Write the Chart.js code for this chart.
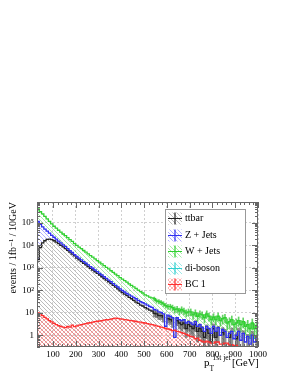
<!DOCTYPE html>
<html>
<head>
<meta charset="utf-8">
<script src="https://cdn.jsdelivr.net/npm/chart.js@4.4.1/dist/chart.umd.min.js"></script>
<style>
  html, body { margin: 0; padding: 0; background: #fff; }
</style>
</head>
<body>
<canvas id="chart" width="287" height="372"></canvas>
<script>
// low edge of each 10 GeV bin of the leading jet pT
const binLow = [30, 40, 50, 60, 70, 80, 90, 100, 110, 120, 130, 140, 150, 160, 170, 180, 190,
  200, 210, 220, 230, 240, 250, 260, 270, 280, 290, 300, 310, 320, 330, 340, 350, 360, 370, 380, 390,
  400, 410, 420, 430, 440, 450, 460, 470, 480, 490, 500, 510, 520, 530, 540, 550, 560, 570, 580, 590,
  600, 610, 620, 630, 640, 650, 660, 670, 680, 690, 700, 710, 720, 730, 740, 750, 760, 770, 780, 790,
  800, 810, 820, 830, 840, 850, 860, 870, 880, 890, 900, 910, 920, 930, 940, 950, 960, 970, 980, 990]
const binWidth = 10

// the backgrounds are stacked: each list is the top of the stack as drawn
const ttbar = [2300, 8000, 13000, 16000, 18500, 19000, 18000, 16000, 14000, 12000, 10000, 8600, 7200, 6000, 5000, 4100, 3400,
  2700, 2250, 1900, 1600, 1350, 1130, 950, 800, 670, 570, 480, 400, 335, 285, 240, 200, 165, 138, 115, 95,
  80, 68, 58, 48, 42, 36, 30, 26, 22, 20, 17, 15, 13, 12, 9.5, 9, 7.5, 7.5, 6, 0,
  5.5, 5, 4, 0, 4.5, 3.5, 3, 3.5, 2, 3, 2.5, 2, 3, 1.5, 2, 1.5, 0.8, 1.8, 1.2, 0.5,
  2, 0.8, 1.5, 0, 1.3, 1, 0, 0.8, 1.2, 0, 0.7, 1.2, 0, 0.9, 0, 0.6, 0, 0.8, 0, 0.5]
const zJets = [115000, 85000, 66000, 53000, 43000, 35000, 28000, 23000, 19000, 15500, 13000, 10500, 8700, 7100, 5800, 4800, 3900,
  3200, 2700, 2250, 1900, 1600, 1350, 1130, 960, 800, 680, 570, 480, 400, 340, 285, 240, 200, 165, 140, 115,
  98, 84, 72, 62, 55, 48, 42, 36, 31, 28, 25, 22, 19, 17.5, 14, 13, 11, 10.5, 9, 2.5,
  7.8, 7, 6, 0.8, 6, 5, 4.5, 5, 3.5, 4, 3.5, 3, 4, 2.5, 3, 2.2, 1.5, 2.5, 2, 1.2,
  2.5, 1.5, 2.2, 1, 1.8, 1.5, 0.8, 1.2, 1.5, 0.7, 1, 1.5, 0.6, 1.2, 0.5, 0.9, 0.4, 1, 0.5, 0.8]
const wJets = [420000, 320000, 250000, 195000, 150000, 117000, 91000, 71000, 58000, 47000, 39000, 32000, 27000, 22000, 18000, 15000, 12000,
  10000, 8300, 7100, 5900, 5000, 4200, 3500, 3000, 2500, 2100, 1800, 1500, 1260, 1050, 890, 740, 630, 520, 450, 370,
  316, 270, 230, 195, 166, 141, 120, 102, 87, 76, 63, 57, 50, 46, 42, 34, 32, 29, 25, 21,
  19, 19, 17, 14, 15, 12, 14, 12, 10, 11, 11, 8, 10, 7, 9, 8, 6, 9, 7, 5,
  6.5, 5, 7, 4.5, 5.5, 6, 3.5, 4, 5, 3, 3.5, 4.5, 3, 4, 2.5, 3, 2, 3.5, 2, 2.5]
const diboson = []
const bc1 = [10, 9, 7.5, 6.3, 5.3, 4.5, 3.9, 3.4, 3.0, 2.7, 2.5, 2.3, 2.2, 2.5, 2.3, 2.8, 2.4,
  2.6, 2.8, 3.0, 3.1, 3.3, 3.5, 3.6, 3.8, 4.0, 4.2, 4.3, 4.5, 4.7, 4.9, 5.0, 5.2, 5.5, 5.8, 5.6, 5.3,
  5.2, 5.0, 4.8, 4.6, 4.5, 4.3, 4.1, 3.9, 3.8, 3.6, 3.5, 3.3, 3.1, 3.0, 2.8, 2.6, 2.5, 2.3, 2.2, 2.0,
  1.9, 1.8, 1.6, 1.7, 1.5, 1.4, 1.3, 1.2, 1.1, 1.0, 0.9, 0.85, 0.7, 0.75, 0.6, 0.55, 0.5, 0.55, 0.5, 0.45,
  0.45, 0.5, 0.5, 0.4, 0.4, 0.45, 0.45, 0.38, 0.38, 0.35, 0.35, 0.3, 0.3, 0.28, 0.28, 0.25, 0.25, 0.22, 0.22, 0.2]

// statistical errors, only visible in the sparse tail (bins from 540 GeV on)
const errFrom = 540
const ttbarErr = [3, 3, 2.5, 2.5, 2.2, 0, 2, 2, 1.8, 0, 1.8, 1.6, 1.5, 1.6, 1.2, 1.5, 1.4, 1.2, 1.5, 1, 1.2, 1, 0.7,
  1.1, 0.9, 0.5, 1.2, 0.7, 1, 0, 0.9, 0.8, 0, 0.7, 0.9, 0, 0.6, 0.9, 0, 0.7, 0, 0.5, 0, 0.7, 0, 0.45]
const wJetsErr = [8, 7, 7, 6, 6, 5, 5, 5, 5, 4.5, 4.5, 4, 4.5, 4, 3.5, 3.8, 3.8, 3, 3.5, 2.8, 3.2, 3, 2.5,
  3.2, 2.8, 2.2, 2.6, 2.2, 2.8, 2, 2.4, 2.5, 1.8, 2, 2.2, 1.6, 1.8, 2, 1.6, 1.9, 1.4, 1.6, 1.3, 1.8, 1.3, 1.5]

const xTicks = [100, 200, 300, 400, 500, 600, 700, 800, 900, 1000]
const yTicks = [1, 10, 100, 1000, 10000, 100000]
const yTickLabels = ["1", "10", "10²", "10³", "10⁴", "10⁵"]

const serif = '"Liberation Serif", "DejaVu Serif", serif'

// histogram as a step line: one point per low edge plus the closing edge
const steps = (vals) => {
  let pts = vals.map((v, i) => ({x: binLow[i], y: v}))
  if (vals.length) pts.push({x: binLow[vals.length - 1] + binWidth, y: vals[vals.length - 1]})
  return pts
}

// floating bars [value - err, value + err] at the bin centres
const errBars = (vals, errs) => {
  let first = binLow.indexOf(errFrom)
  let out = []
  errs.forEach((e, j) => {
    let i = first + j
    if (e > 0) out.push({x: binLow[i] + binWidth / 2, y: [Math.max(vals[i] - e, 0), vals[i] + e]})
  })
  return out
}

let canvas = document.getElementById("chart")
let ctx = canvas.getContext("2d")

// ROOT-like fill styles: pixel diagonals, or crossed diagonals
const hatch = (color, cross) => {
  let c = document.createElement("canvas")
  c.width = 4
  c.height = 4
  let g = c.getContext("2d")
  g.fillStyle = color
  for (let i = 0; i < 4; i++) {
    g.fillRect(i, i, 1, 1)
    if (cross) g.fillRect(3 - i, i, 1, 1)
  }
  return ctx.createPattern(c, "repeat")
}

const frame = {
  id: "frame",
  afterDatasetsDraw(chart) {
    const {ctx, chartArea: a, scales: {x, y}} = chart
    ctx.save()
    ctx.strokeStyle = "#666"
    ctx.lineWidth = 1
    ctx.beginPath()
    for (let v = 40; v <= 1000; v += 20) {
      let px = Math.round(x.getPixelForValue(v)) + 0.5
      let len = v % 100 === 0 ? 6 : 3
      ctx.moveTo(px, a.bottom); ctx.lineTo(px, a.bottom - len)
      ctx.moveTo(px, a.top); ctx.lineTo(px, a.top + len)
    }
    for (let e = -1; e <= 5; e++) {
      for (let k = 1; k <= 9; k++) {
        let v = k * Math.pow(10, e)
        if (v < y.min || v > y.max) continue
        let py = Math.round(y.getPixelForValue(v)) + 0.5
        let len = k === 1 ? 6 : 3
        ctx.moveTo(a.left, py); ctx.lineTo(a.left + len, py)
        ctx.moveTo(a.right, py); ctx.lineTo(a.right - len, py)
      }
    }
    ctx.stroke()
    ctx.strokeRect(a.left + 0.5, a.top + 0.5, a.right - a.left - 1, a.bottom - a.top - 1)
    ctx.restore()
  }
}

const legendBox = {
  id: "legendBox",
  afterDraw(chart) {
    const {ctx} = chart
    let x0 = 165, y0 = 209, w = 80, h = 84
    ctx.save()
    ctx.fillStyle = "#fff"
    ctx.fillRect(x0, y0, w, h)
    ctx.strokeStyle = "#999"
    ctx.lineWidth = 1
    ctx.strokeRect(x0 + 0.5, y0 + 0.5, w, h)
    ctx.font = "10px " + serif
    ctx.textBaseline = "middle"
    chart.data.datasets.filter(ds => ds.type !== "bar").forEach((ds, i) => {
      let cy = Math.round(y0 + 9 + i * 16.6) + 0.5
      ctx.fillStyle = ds.backgroundColor
      ctx.fillRect(x0 + 3, cy - 6, 14, 12)
      ctx.strokeStyle = ds.borderColor
      ctx.lineWidth = 1.2
      ctx.beginPath()
      ctx.moveTo(x0 + 3, cy); ctx.lineTo(x0 + 17, cy)
      ctx.moveTo(x0 + 10, cy - 6); ctx.lineTo(x0 + 10, cy + 6)
      ctx.stroke()
      ctx.fillStyle = "#000"
      ctx.fillText(ds.label, x0 + 20, cy)
    })
    ctx.restore()
  }
}

const xTitle = {
  id: "xTitle",
  afterDraw(chart) {
    const {ctx} = chart
    ctx.save()
    ctx.fillStyle = "#000"
    ctx.textBaseline = "alphabetic"
    ctx.font = "11px " + serif
    ctx.fillText("p", 204, 366)
    ctx.font = "7.5px " + serif
    ctx.fillText("T", 209.5, 371)
    ctx.fillText("1st jet", 212.5, 360)
    ctx.font = "10.5px " + serif
    ctx.fillText("[GeV]", 232, 366)
    ctx.restore()
  }
}

const line = (label, vals, color, fillStyle, fill, order) => ({
  label: label,
  data: steps(vals),
  borderColor: color,
  backgroundColor: fillStyle,
  borderWidth: 1.3,
  stepped: "before",
  pointRadius: 0,
  fill: fill,
  order: order,
  clip: 0
})

const bars = (label, data, color, thickness) => ({
  type: "bar",
  label: label,
  data: data,
  backgroundColor: color,
  borderWidth: 0,
  barThickness: thickness,
  grouped: false,
  order: 6,
  clip: 0
})

let chart = new Chart(ctx, {
  type: "line",
  data: {
    datasets: [
      line("ttbar", ttbar, "#222", hatch("#bcbcbc"), "origin", 3),
      line("Z + Jets", zJets, "#3030f0", hatch("rgba(80,80,255,0.45)"), 0, 2),
      line("W + Jets", wJets, "#30d030", hatch("rgba(60,210,60,0.45)"), 1, 1),
      line("di-boson", diboson, "#30d0d0", hatch("rgba(60,210,210,0.5)"), false, 4),
      line("BC 1", bc1, "#ff3030", hatch("rgba(255,90,90,0.45)", true), "origin", 0),
      bars("ttbar errors", errBars(ttbar, ttbarErr), "rgba(70,70,70,0.6)", 2.3),
      bars("W + Jets errors", errBars(wJets, wJetsErr), "rgba(60,200,60,0.8)", 1)
    ]
  },
  options: {
    responsive: false,
    animation: false,
    devicePixelRatio: 1,
    layout: {padding: {top: 202, right: 29, left: 0, bottom: 0}},
    plugins: {
      legend: {display: false},
      tooltip: {enabled: false},
      filler: {drawTime: "beforeDatasetsDraw"}
    },
    scales: {
      x: {
        type: "linear",
        min: 30,
        max: 1000,
        offset: false,
        afterFit: (s) => { s.height = 25 },
        afterBuildTicks: (s) => { s.ticks = xTicks.map(v => ({value: v})) },
        grid: {color: "#d0d0d0", drawTicks: false, offset: false},
        border: {display: false, dash: [2, 2]},
        ticks: {
          padding: 2,
          color: "#000",
          font: {family: serif, size: 9},
          maxRotation: 0,
          callback: (v) => String(v)
        }
      },
      y: {
        type: "logarithmic",
        min: 0.316,
        max: 850000,
        afterFit: (s) => { s.width = 37 },
        afterBuildTicks: (s) => { s.ticks = yTicks.map(v => ({value: v})) },
        grid: {color: "#d0d0d0", drawTicks: false},
        border: {display: false, dash: [2, 2]},
        ticks: {
          padding: 3,
          color: "#000",
          font: {family: serif, size: 9},
          callback: (v, i) => yTickLabels[i]
        },
        title: {
          display: true,
          text: "events / 1fb⁻¹ / 10GeV",
          align: "end",
          color: "#000",
          font: {family: serif, size: 10},
          padding: {top: 7, bottom: 0}
        }
      }
    }
  },
  plugins: [frame, legendBox, xTitle]
})
</script>
</body>
</html>
